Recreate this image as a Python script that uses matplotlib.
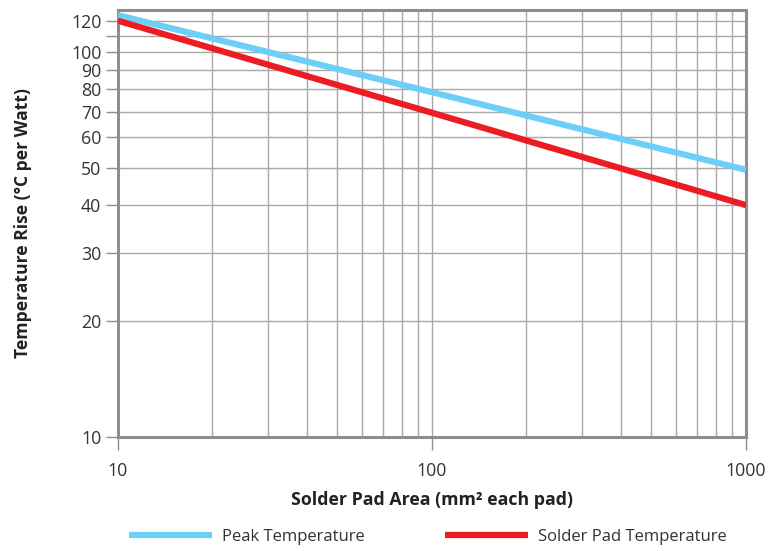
import matplotlib
matplotlib.use("Agg")
import matplotlib.pyplot as plt
from matplotlib.ticker import FixedLocator, NullFormatter, NullLocator

# data (log-log, straight lines)
pad_area = [10, 100, 1000]
peak_temp = [124.5, 78.6, 49.4]
solder_temp = [120.5, 69.5, 40.0]

y_ticks = [10, 20, 30, 40, 50, 60, 70, 80, 90, 100, 110, 120]
y_labels = ["10", "20", "30", "40", "50", "60", "70", "80", "90", "100", "", "120"]
x_grid = [20, 30, 40, 50, 60, 70, 80, 90, 200, 300, 400, 500, 600, 700, 800, 900]

plt.rcParams["font.family"] = ["Open Sans", "DejaVu Sans"]

fig = plt.figure(figsize=(7.7, 5.51), dpi=100)
ax = fig.add_axes([0.1532, 0.2069, 0.8156, 0.775])

grid_col = "#a8a8a8"
spine_col = "#8e8e8e"

ax.set_xscale("log")
ax.set_yscale("log")
ax.set_xlim(10, 1000)
ax.set_ylim(10, 128.5)

ax.plot(pad_area, peak_temp, color="#6dcff6", lw=4.5, label="Peak Temperature",
        solid_capstyle="butt", zorder=3)
ax.plot(pad_area, solder_temp, color="#ed1c24", lw=4.5, label="Solder Pad Temperature",
        solid_capstyle="butt", zorder=3)

# gridlines
for v in x_grid + [100]:
    ax.axvline(v, color=grid_col, lw=1.0, zorder=1)
for v in y_ticks[1:]:
    ax.axhline(v, color=grid_col, lw=1.0, zorder=1)

ax.yaxis.set_major_locator(FixedLocator(y_ticks))
ax.set_yticklabels(y_labels)
ax.yaxis.set_minor_locator(NullLocator())
ax.yaxis.set_minor_formatter(NullFormatter())
ax.xaxis.set_major_locator(FixedLocator([10, 100, 1000]))
ax.set_xticklabels(["10", "100", "1000"])
ax.xaxis.set_minor_locator(NullLocator())
ax.xaxis.set_minor_formatter(NullFormatter())

ax.tick_params(axis="both", colors=spine_col, labelcolor="#333333", labelsize=12.8,
               length=9, width=1.0)
ax.tick_params(axis="x", pad=9)
ax.tick_params(axis="y", pad=3)

for s in ax.spines.values():
    s.set_color(spine_col)
    s.set_linewidth(2.2)

ax.set_xlabel("Solder Pad Area (mm² each pad)", fontsize=12.8, fontweight="bold",
              color="#222222", labelpad=8)
ax.set_ylabel("Temperature Rise (°C per Watt)", fontsize=12.6, fontweight="bold",
              color="#222222", labelpad=28)

leg = fig.legend(loc="center", bbox_to_anchor=(0.556, 0.025), ncol=2, frameon=False,
                 fontsize=12, handlelength=5.0, handletextpad=0.6, columnspacing=4.8)
for t in leg.get_texts():
    t.set_color("#333333")

fig.savefig("out.png", dpi=100)
